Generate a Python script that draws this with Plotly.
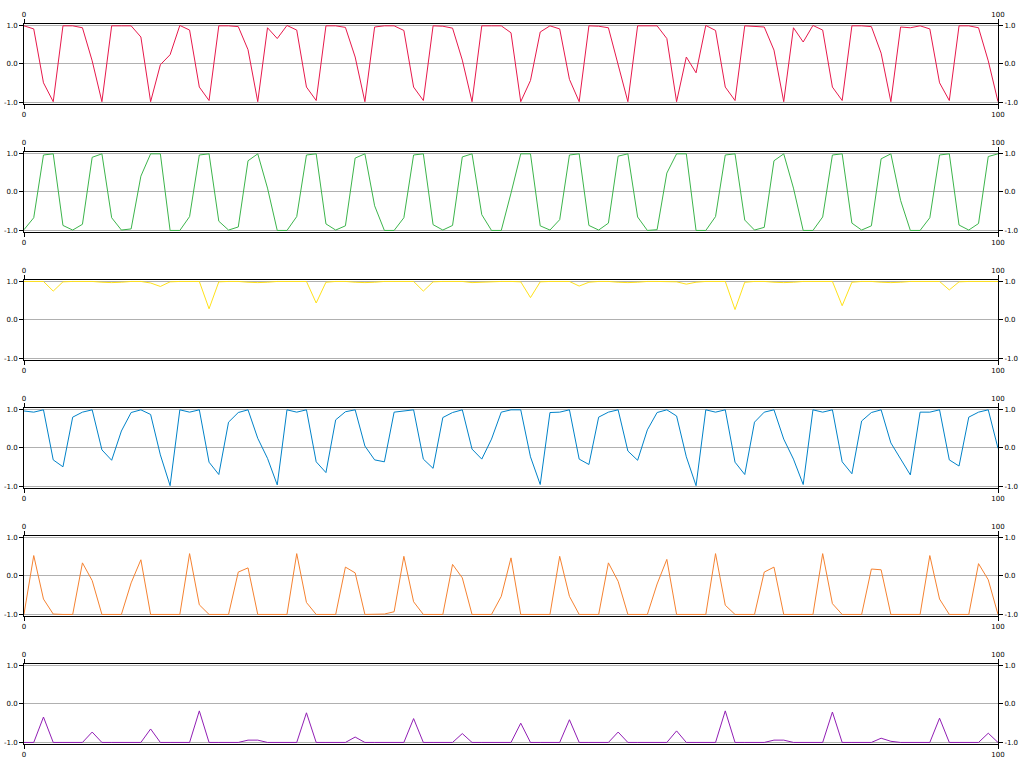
import plotly.graph_objects as go

x_vals = list(range(101))

red = [0.99, 0.91, -0.49, -0.98, 0.99, 0.99, 0.94, 0.08, -0.98, 0.99,
       0.99, 0.99, 0.70, -0.98, -0.02, 0.24, 1.0, 0.88, -0.6, -0.95,
       0.99, 0.99, 0.97, 0.37, -0.98, 0.94, 0.66, 1.0, 0.88, -0.6,
       -0.95, 0.99, 0.99, 0.95, 0.18, -0.98, 0.96, 0.99, 0.99, 0.87,
       -0.6, -0.95, 0.99, 0.98, 0.93, 0.10, -0.98, 0.99, 0.99, 0.99,
       0.81, -0.98, -0.43, 0.83, 0.99, 0.91, -0.40, -0.98, 0.99, 0.98,
       0.94, -0.01, -0.98, 0.99, 0.99, 0.99, 0.66, -0.98, 0.18, -0.23,
       1.0, 0.87, -0.6, -0.95, 0.99, 0.98, 0.96, 0.36, -0.98, 0.94,
       0.57, 1.0, 0.88, -0.6, -0.95, 0.99, 0.99, 0.97, 0.28, -0.98,
       0.96, 0.94, 0.99, 0.91, -0.49, -0.95, 0.99, 0.99, 0.94, 0.08,
       -0.98]

green = [-0.98, -0.67, 0.96, 0.99, -0.87, -0.99, -0.84, 0.90, 0.99, -0.67,
         -0.99, -0.96, 0.41, 0.99, 0.99, -1.0, -1.0, -0.64, 0.96, 0.99,
         -0.76, -0.99, -0.91, 0.81, 0.99, 0.10, -1.0, -1.0, -0.64, 0.96,
         0.99, -0.83, -0.99, -0.88, 0.88, 0.99, -0.36, -1.0, -1.0, -0.67,
         0.96, 0.99, -0.85, -0.99, -0.87, 0.91, 0.99, -0.59, -1.0, -1.0,
         -0.03, 0.99, 0.99, -0.88, -0.99, -0.72, 0.96, 0.99, -0.87, -0.99,
         -0.81, 0.93, 0.99, -0.65, -1.0, -0.98, 0.49, 0.99, 0.99, -1.0,
         -1.0, -0.64, 0.96, 0.99, -0.73, -0.99, -0.92, 0.81, 0.99, 0.10,
         -1.0, -1.0, -0.65, 0.96, 0.99, -0.81, -0.99, -0.88, 0.86, 0.99,
         -0.22, -1.0, -1.0, -0.67, 0.96, 0.99, -0.86, -0.99, -0.82, 0.92,
         0.99]

yellow = [1.0, 1.0, 1.0, 0.75, 0.99, 1.0, 1.0, 1.0, 0.98, 0.97,
          0.98, 1.0, 1.0, 0.96, 0.87, 0.99, 1.0, 1.0, 1.0, 0.29,
          0.99, 1.0, 1.0, 0.98, 0.97, 0.98, 1.0, 1.0, 1.0, 1.0,
          0.44, 0.98, 1.0, 1.0, 0.98, 0.97, 0.98, 1.0, 1.0, 1.0,
          1.0, 0.75, 0.99, 1.0, 1.0, 1.0, 0.97, 0.98, 1.0, 1.0,
          1.0, 0.99, 0.58, 0.99, 1.0, 1.0, 1.0, 0.88, 0.98, 1.0,
          1.0, 0.98, 0.97, 0.98, 1.0, 1.0, 1.0, 0.99, 0.93, 0.98,
          1.0, 1.0, 1.0, 0.27, 0.98, 1.0, 1.0, 0.98, 0.97, 0.98,
          1.0, 1.0, 1.0, 1.0, 0.37, 0.98, 1.0, 1.0, 0.98, 0.97,
          0.98, 1.0, 1.0, 1.0, 1.0, 0.78, 0.99, 1.0, 1.0, 0.99,
          1.0]

blue = [0.96, 0.93, 0.99, -0.31, -0.49, 0.80, 0.93, 0.99, -0.05, -0.32,
        0.44, 0.92, 0.99, 0.87, -0.18, -0.98, 0.99, 0.93, 0.99, -0.37,
        -0.69, 0.67, 0.92, 0.99, 0.25, -0.27, -0.96, 0.99, 0.93, 0.99,
        -0.36, -0.64, 0.73, 0.94, 0.99, 0.05, -0.31, -0.36, 0.93, 0.96,
        0.99, -0.29, -0.53, 0.79, 0.92, 0.99, -0.03, -0.29, 0.23, 0.93,
        0.99, 0.99, -0.23, -0.95, 0.92, 0.93, 0.99, -0.29, -0.43, 0.80,
        0.93, 0.99, -0.08, -0.32, 0.47, 0.92, 0.99, 0.83, -0.23, -0.98,
        0.99, 0.93, 0.99, -0.37, -0.69, 0.67, 0.93, 0.99, 0.23, -0.29,
        -0.95, 0.99, 0.93, 0.99, -0.36, -0.67, 0.70, 0.92, 0.99, 0.13,
        -0.29, -0.70, 0.93, 0.93, 0.99, -0.31, -0.47, 0.80, 0.93, 0.99,
        -0.01]

orange = [-0.99, 0.53, -0.60, -0.99, -1.0, -1.0, 0.34, -0.12, -1.0, -1.0,
          -1.0, -0.18, 0.42, -1.0, -1.0, -1.0, -1.0, 0.58, -0.75, -1.0,
          -1.0, -1.0, 0.10, 0.21, -1.0, -1.0, -1.0, -1.0, 0.58, -0.69,
          -1.0, -1.0, -1.0, 0.23, 0.08, -1.0, -1.0, -0.99, -0.93, 0.51,
          -0.67, -1.0, -1.0, -1.0, 0.30, -0.05, -1.0, -1.0, -1.0, -0.53,
          0.47, -1.0, -1.0, -1.0, -1.0, 0.51, -0.53, -1.0, -1.0, -1.0,
          0.34, -0.14, -1.0, -1.0, -1.0, -0.21, 0.43, -1.0, -1.0, -1.0,
          -1.0, 0.58, -0.76, -1.0, -1.0, -1.0, 0.10, 0.23, -1.0, -1.0,
          -1.0, -1.0, 0.58, -0.72, -1.0, -1.0, -1.0, 0.18, 0.16, -1.0,
          -1.0, -1.0, -1.0, 0.53, -0.60, -1.0, -1.0, -1.0, 0.32, -0.10,
          -1.0]

purple = [-1.0, -1.0, -0.34, -1.0, -1.0, -1.0, -1.0, -0.73, -1.0, -1.0,
          -1.0, -1.0, -1.0, -0.65, -1.0, -1.0, -1.0, -1.0, -0.18, -1.0,
          -1.0, -1.0, -1.0, -0.94, -0.94, -1.0, -1.0, -1.0, -1.0, -0.23,
          -1.0, -1.0, -1.0, -1.0, -0.86, -1.0, -1.0, -1.0, -1.0, -1.0,
          -0.38, -1.0, -1.0, -1.0, -1.0, -0.77, -1.0, -1.0, -1.0, -1.0,
          -1.0, -0.50, -1.0, -1.0, -1.0, -1.0, -0.41, -1.0, -1.0, -1.0,
          -1.0, -0.73, -1.0, -1.0, -1.0, -1.0, -1.0, -0.70, -1.0, -1.0,
          -1.0, -1.0, -0.18, -1.0, -1.0, -1.0, -1.0, -0.94, -0.94, -1.0,
          -1.0, -1.0, -1.0, -0.21, -1.0, -1.0, -1.0, -1.0, -0.89, -0.97,
          -1.0, -1.0, -1.0, -1.0, -0.37, -1.0, -1.0, -1.0, -1.0, -0.76,
          -1.0]

series = [red, green, yellow, blue, orange, purple]
colors = ["#e6194b", "#3cb44b", "#ffe119", "#0082c8", "#f58231", "#911eb4"]

x_ticks = [0, 100]
x_ticktext = ["0", "100"]
y_ticks = [-1.0, 0.0, 1.0]
y_ticktext = ["-1.0", "0.0", "1.0"]

W, H = 1024, 768
panel_top0 = 24.3
panel_step = 128.0
panel_h = 79.3
x_dom = [24 / W, 998 / W]
yr = [-1.03, 1.03]

font = dict(family="DejaVu Sans", size=7, color="black")

fig = go.Figure()
layout = {}


def ax_name(kind, n):
    return f"{kind}axis" if n == 1 else f"{kind}axis{n}"


def ref(kind, n):
    return kind if n == 1 else f"{kind}{n}"


for k, (s, c) in enumerate(zip(series, colors)):
    na = 2 * k + 1
    nb = 2 * k + 2
    top = panel_top0 + panel_step * k
    dom = [1 - (top + panel_h) / H, 1 - top / H]

    fig.add_trace(go.Scatter(x=x_vals, y=s, mode="lines",
                             line=dict(color=c, width=1),
                             xaxis=ref("x", na), yaxis=ref("y", na),
                             showlegend=False, hoverinfo="skip"))
    fig.add_trace(go.Scatter(x=[x_ticks[0], x_ticks[-1]], y=[0, 0], mode="lines",
                             line=dict(width=0), opacity=0,
                             xaxis=ref("x", nb), yaxis=ref("y", nb),
                             showlegend=False, hoverinfo="skip"))

    common_x = dict(range=[x_ticks[0], x_ticks[-1]], tickmode="array",
                    tickvals=x_ticks, ticktext=x_ticktext,
                    ticks="outside", ticklen=4, tickwidth=1, tickcolor="black",
                    showline=True, linecolor="black", linewidth=1,
                    showgrid=False, zeroline=False, tickfont=font,
                    automargin=False, fixedrange=True)
    common_y = dict(range=yr, tickmode="array",
                    tickvals=y_ticks, ticktext=y_ticktext,
                    ticks="outside", ticklen=4, tickwidth=1, tickcolor="black",
                    showline=True, linecolor="black", linewidth=1,
                    zeroline=False, tickfont=font,
                    automargin=False, fixedrange=True)

    layout[ax_name("x", na)] = dict(domain=x_dom, anchor=ref("y", na),
                                    side="bottom", **common_x)
    layout[ax_name("x", nb)] = dict(overlaying=ref("x", na), anchor=ref("y", na),
                                    side="top", **common_x)
    layout[ax_name("y", na)] = dict(domain=dom, anchor=ref("x", na), side="left",
                                    showgrid=True, gridcolor="#b0b0b0", gridwidth=1,
                                    **common_y)
    layout[ax_name("y", nb)] = dict(overlaying=ref("y", na), anchor=ref("x", na),
                                    side="right", showgrid=False, **common_y)

fig.update_layout(width=W, height=H,
                  margin=dict(l=0, r=0, t=0, b=0, pad=0),
                  paper_bgcolor="white", plot_bgcolor="white",
                  template="none", showlegend=False, **layout)

fig.write_html("out.html",
               config={"displayModeBar": False, "staticPlot": True},
               post_script="document.body.style.margin='0';document.body.style.padding='0';")
